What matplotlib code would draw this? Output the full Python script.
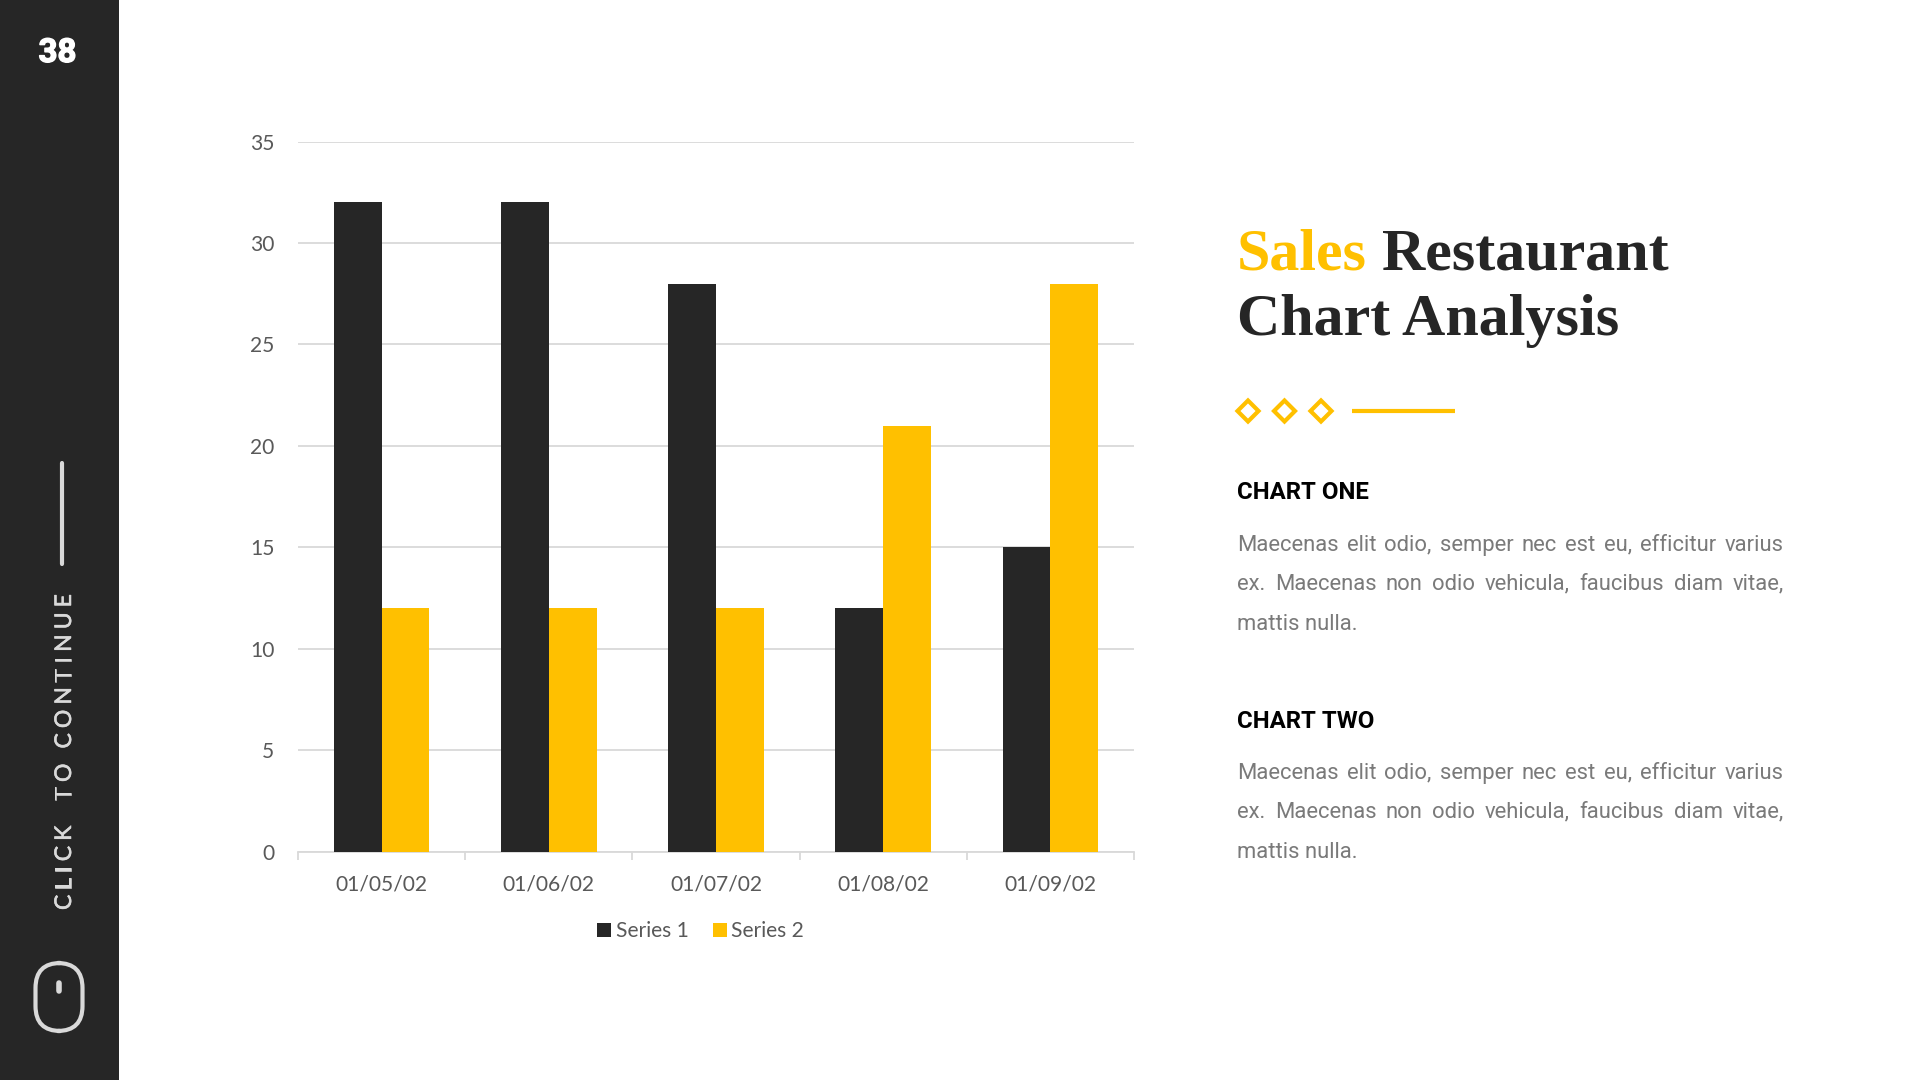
import matplotlib
matplotlib.use("Agg")
import matplotlib.pyplot as plt
import matplotlib.patheffects as pe
import numpy as np
from matplotlib.patches import FancyBboxPatch, Rectangle, Polygon

# chart data
dates = ["01/05/02", "01/06/02", "01/07/02", "01/08/02", "01/09/02"]
series_1 = [32, 32, 28, 12, 15]
series_2 = [12, 12, 12, 21, 28]
y_ticks = [0, 5, 10, 15, 20, 25, 30, 35]

# slide text
page_number = "38"
side_label = "CLICK  TO CONTINUE"
heading_one = "CHART ONE"
heading_two = "CHART TWO"
body_lines = [
    "Maecenas elit odio, semper nec est eu, efficitur varius",
    "ex. Maecenas non odio vehicula, faucibus diam vitae,",
    "mattis nulla.",
]

DARK = "#262626"
YELLOW = "#FFC000"
GREY = "#D9D9D9"
TICK_TEXT = "#595959"
BODY_TEXT = "#7A7A7A"
SERIF = "Liberation Serif"

W, H = 1920, 1080


def px(size):
    # font size given in pixels of the final picture
    return size * 0.72


fig = plt.figure(figsize=(19.2, 10.8), dpi=100, facecolor="white")

# whole slide layer, coordinates are picture pixels
bg = fig.add_axes([0, 0, 1, 1])
bg.set_xlim(0, W)
bg.set_ylim(H, 0)
bg.axis("off")

renderer = fig.canvas.get_renderer()


def text_width(t):
    return t.get_window_extent(renderer).width


def justified(line, x0, x1, y, size, color):
    # word by word, so the line fills the column like in the slide
    words = line.split(" ")
    # agg rounds the small comma descent down one pixel, so lift those words back
    items = [bg.text(x0, y - 1 if w.endswith(",") else y, w, fontsize=px(size), color=color,
                     family="Roboto", va="baseline", ha="left") for w in words]
    widths = [text_width(i) for i in items]
    gap = (x1 - x0 - sum(widths)) / (len(words) - 1)
    x = x0
    for item, w in zip(items, widths):
        item.set_x(x)
        x += w + gap


# sidebar
bg.add_patch(Rectangle((0, 0), 119, H, color=DARK, lw=0))
num = bg.text(57.5, 53, page_number, color="white", fontsize=px(33), family="Roboto",
              fontweight="bold", ha="center", va="center")
num.set_path_effects([pe.withStroke(linewidth=1.0, foreground="white")])
bg.plot([62, 62], [463, 564], color=GREY, lw=3, solid_capstyle="round")

# side label goes up letter by letter because of the wide tracking
y = 910
for ch in side_label:
    t = bg.text(64.5, y, ch, color=GREY, fontsize=px(23), family="Lato", rotation=90,
                ha="center", va="bottom")
    t.set_path_effects([pe.withStroke(linewidth=0.4, foreground=GREY)])
    if ch == " ":
        y -= 10
    else:
        y -= t.get_window_extent(renderer).height + 5.0

# mouse icon
bg.add_patch(FancyBboxPatch((35.5 + 18, 963 + 18), 47 - 36, 68 - 36,
                            boxstyle="round,pad=18,rounding_size=25",
                            fc="none", ec=GREY, lw=3))
bg.plot([59, 59], [983, 991], color=GREY, lw=4, solid_capstyle="round")

# title
title_size = 60
sales = bg.text(1237, 269, "Sales", color=YELLOW, fontsize=px(title_size), family=SERIF,
                fontweight="bold", va="baseline", ha="left")
bg.text(1237 + text_width(sales) + 15, 269, "Restaurant", color=DARK, fontsize=px(title_size),
        family=SERIF, fontweight="bold", va="baseline", ha="left")
bg.text(1237, 335, "Chart Analysis", color=DARK, fontsize=px(title_size), family=SERIF,
        fontweight="bold", va="baseline", ha="left")

# diamonds and rule
for cx in [1248, 1284.5, 1321]:
    bg.add_patch(Polygon([(cx - 10.5, 411), (cx, 400.5), (cx + 10.5, 411), (cx, 421.5)],
                         closed=True, fc="none", ec=YELLOW, lw=3))
bg.plot([1352, 1455], [411, 411], color=YELLOW, lw=3, solid_capstyle="butt")

# right column
for head, head_y, line_ys in [(heading_one, 499, [551, 590, 630]),
                              (heading_two, 728, [779, 818, 858])]:
    bg.text(1237, head_y, head, color="black", fontsize=px(24), family="Roboto",
            fontweight="bold", va="baseline", ha="left")
    for line, ly in zip(body_lines, line_ys):
        if line == body_lines[-1]:
            bg.text(1237, ly, line, color=BODY_TEXT, fontsize=px(22), family="Roboto",
                    va="baseline", ha="left")
        else:
            justified(line, 1237, 1783.5, ly, 22, BODY_TEXT)

# bar chart
ax = fig.add_axes([298 / W, 1 - 851.6 / H, (1134 - 298) / W, (851.6 - 141.5) / H])
ax.set_facecolor("none")
pos = np.arange(len(dates))
bar_w = 1 / 3.5
ax.bar(pos - bar_w / 2, series_1, bar_w, color=DARK, label="Series 1", zorder=3)
ax.bar(pos + bar_w / 2, series_2, bar_w, color=YELLOW, label="Series 2", zorder=3)

ax.set_xlim(-0.5, len(dates) - 0.5)
ax.set_ylim(0, 35)
ax.set_yticks(y_ticks)
ax.grid(axis="y", color=GREY, lw=1.3, zorder=0)
ax.set_axisbelow(True)
for side in ["top", "left", "right"]:
    ax.spines[side].set_visible(False)
ax.spines["bottom"].set_color(GREY)
ax.spines["bottom"].set_linewidth(1.3)

# ticks sit between the groups, labels under the groups
ax.set_xticks(np.arange(len(dates) + 1) - 0.5)
ax.set_xticklabels([])
ax.set_xticks(pos, minor=True)
ax.set_xticklabels(dates, minor=True, family="Lato", fontsize=px(21), color=TICK_TEXT)
ax.tick_params(axis="x", which="major", length=6, width=1.3, color=GREY)
ax.tick_params(axis="x", which="minor", length=0, pad=16.5)
ax.tick_params(axis="y", length=0, pad=17, labelsize=px(21), labelcolor=TICK_TEXT)
for lab in ax.get_yticklabels():
    lab.set_family("Lato")

leg = ax.legend(ncol=2, loc="center", bbox_to_anchor=((700.5 - 298) / (1134 - 298), -79.5 / 710),
                frameon=False, handlelength=0.68, handleheight=0.68, handletextpad=0.2,
                columnspacing=1.15, prop={"family": "Lato", "size": px(21)})
for t in leg.get_texts():
    t.set_color(TICK_TEXT)

fig.savefig("out.png", dpi=100)
plt.close(fig)
